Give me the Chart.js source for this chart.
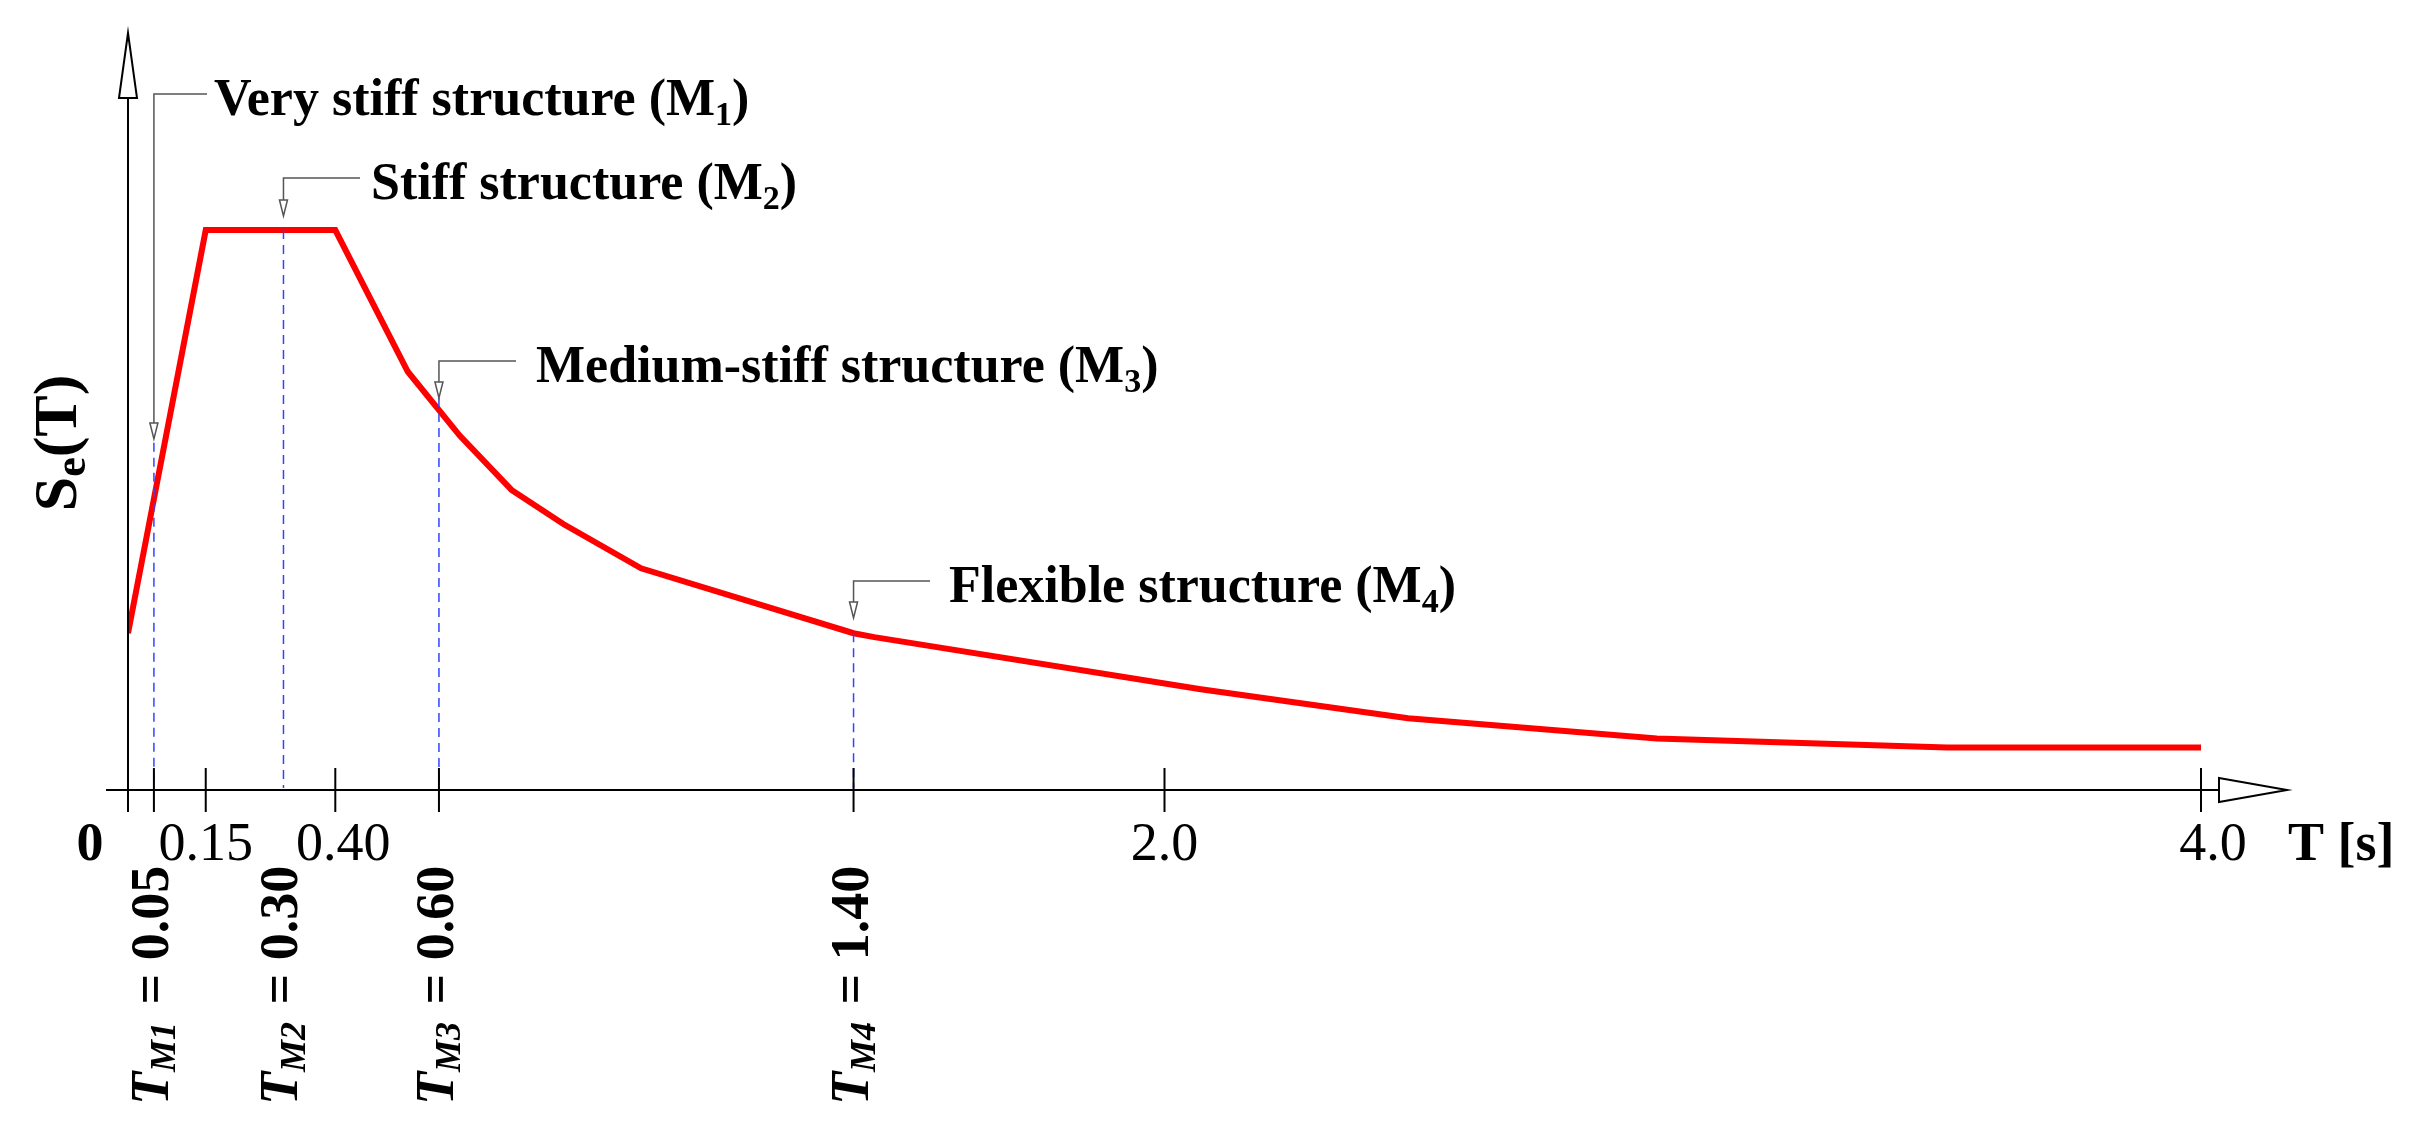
<!DOCTYPE html>
<html><head><meta charset="utf-8">
<script src="https://cdn.jsdelivr.net/npm/chart.js@4/dist/chart.umd.min.js"></script>
<style>html,body{margin:0;padding:0;background:#fff}#w{width:2417px;height:1138px}</style>
</head><body><div id="w"><canvas id="c"></canvas></div>
<script>
const periods = [0, 0.15, 0.40, 0.54, 0.64, 0.74, 0.84, 0.99, 1.40, 1.44, 2.07, 2.47, 2.95, 3.51, 4.0];
const seValues = [0.28, 1.0, 1.0, 0.747, 0.633, 0.536, 0.475, 0.396, 0.28, 0.273, 0.180, 0.128, 0.092, 0.076, 0.076];
const tickValues = [0, 0.05, 0.15, 0.30, 0.40, 0.60, 1.40, 2.0, 4.0];
const tickLabels = [["0",true],["0.15",false],["0.40",false],["2.0",false],["4.0",false]];
const tickLabelAt = [0, 0.15, 0.40, 2.0, 4.0];
const modeNames = ["Very stiff structure (M", "Stiff structure (M", "Medium-stiff structure (M", "Flexible structure (M"];
const modePeriods = [0.05, 0.30, 0.60, 1.40];
const modePeriodLabels = ["0.05", "0.30", "0.60", "1.40"];
const modeSe = [0.62, 1.0, 0.70, 0.28];
const FONT = '"Liberation Serif", "DejaVu Serif", serif';

const decor = {
  id: 'decor',
  afterDatasetsDraw(chart) {
    const ctx = chart.ctx, xs = chart.scales.x, ys = chart.scales.y;
    const y0 = ys.getPixelForValue(0), x0 = xs.getPixelForValue(0);
    ctx.save();
    ctx.strokeStyle = '#3344ff'; ctx.lineWidth = 1.5; ctx.setLineDash([9, 6]);
    modePeriods.forEach((t, i) => {
      const x = xs.getPixelForValue(t);
      ctx.beginPath(); ctx.moveTo(x, ys.getPixelForValue(modeSe[i])); ctx.lineTo(x, y0 - 2); ctx.stroke();
    });
    ctx.setLineDash([]);
    ctx.strokeStyle = '#000'; ctx.lineWidth = 2;
    const xEnd = xs.getPixelForValue(4.0);
    ctx.beginPath(); ctx.moveTo(106, y0); ctx.lineTo(xEnd + 18, y0); ctx.stroke();
    ctx.beginPath(); ctx.moveTo(x0, y0 + 22); ctx.lineTo(x0, 98); ctx.stroke();
    ctx.fillStyle = '#fff';
    ctx.beginPath(); ctx.moveTo(x0 - 9, 98); ctx.lineTo(x0, 33); ctx.lineTo(x0 + 9, 98); ctx.closePath(); ctx.fill(); ctx.stroke();
    ctx.beginPath(); ctx.moveTo(xEnd + 18, y0 - 12); ctx.lineTo(xEnd + 86, y0); ctx.lineTo(xEnd + 18, y0 + 12); ctx.closePath(); ctx.fill(); ctx.stroke();
    tickValues.forEach(t => {
      if (t === 0.30) return;
      const x = xs.getPixelForValue(t);
      ctx.beginPath(); ctx.moveTo(x, y0 - 22); ctx.lineTo(x, y0 + 22); ctx.stroke();
    });
    ctx.fillStyle = '#000'; ctx.textBaseline = 'middle'; ctx.textAlign = 'center';
    tickLabelAt.forEach((t, i) => {
      const [s, b] = tickLabels[i];
      ctx.font = (b ? 'bold ' : '') + '54px ' + FONT;
      let x = xs.getPixelForValue(t);
      if (t === 0) x = 90; if (t === 0.40) x += 8; if (t === 4.0) x += 12;
      ctx.fillText(s, x, 846);
    });
    ctx.font = 'bold 54px ' + FONT; ctx.textAlign = 'left';
    ctx.fillText('T [s]', 2288, 846);
    ctx.save(); ctx.translate(60, 443); ctx.rotate(-Math.PI / 2);
    ctx.textAlign = 'left'; ctx.font = 'bold 62px ' + FONT;
    const w1 = ctx.measureText('S').width; ctx.font = 'bold 44px ' + FONT;
    const w2 = ctx.measureText('e').width; ctx.font = 'bold 62px ' + FONT;
    const w3 = ctx.measureText('(T)').width; let sx = -(w1 + w2 + w3) / 2;
    ctx.fillText('S', sx, 0); ctx.font = 'bold 44px ' + FONT; ctx.fillText('e', sx + w1, 14);
    ctx.font = 'bold 62px ' + FONT; ctx.fillText('(T)', sx + w1 + w2, 0);
    ctx.restore();
    modePeriods.forEach((t, i) => {
      const x = xs.getPixelForValue(t);
      ctx.save(); ctx.translate(x, 1105); ctx.rotate(-Math.PI / 2);
      ctx.textAlign = 'left'; ctx.textBaseline = 'middle';
      ctx.font = 'bold italic 54px ' + FONT; ctx.fillText('T', 0, 0);
      let p = ctx.measureText('T').width;
      ctx.font = 'bold italic 36px ' + FONT; ctx.fillText('M' + (i + 1), p, 12);
      p += ctx.measureText('M' + (i + 1)).width + 4;
      ctx.font = 'bold 54px ' + FONT; ctx.fillText(' = ' + modePeriodLabels[i], p, 0);
      ctx.restore();
    });
    const leaders = [[439, 94, 207, 214], [216, 178, 360, 371], [398, 361, 516, 536], [618, 581, 930, 949]];
    modePeriods.forEach((t, i) => {
      const x = xs.getPixelForValue(t), [tip, top, hx, tx] = leaders[i];
      ctx.strokeStyle = '#555'; ctx.lineWidth = 1.5;
      ctx.beginPath(); ctx.moveTo(x, tip - 14); ctx.lineTo(x, top); ctx.lineTo(hx, top); ctx.stroke();
      ctx.fillStyle = '#fff';
      ctx.beginPath(); ctx.moveTo(x - 4, tip - 16); ctx.lineTo(x, tip); ctx.lineTo(x + 4, tip - 16); ctx.closePath(); ctx.fill(); ctx.stroke();
      ctx.fillStyle = '#000'; ctx.textBaseline = 'middle'; ctx.textAlign = 'left';
      ctx.font = 'bold 52px ' + FONT; ctx.fillText(modeNames[i], tx, top + 8);
      let p = tx + ctx.measureText(modeNames[i]).width;
      ctx.font = 'bold 34px ' + FONT; ctx.fillText(String(i + 1), p, top + 22);
      p += ctx.measureText(String(i + 1)).width;
      ctx.font = 'bold 52px ' + FONT; ctx.fillText(')', p, top + 8);
    });
    ctx.restore();
  }
};

new Chart(document.getElementById('c'), {
  type: 'line',
  data: { datasets: [{ data: periods.map((t, i) => ({ x: t, y: seValues[i] })), borderColor: '#ff0000', borderWidth: 6, pointRadius: 0, tension: 0, fill: false }] },
  options: {
    responsive: true, maintainAspectRatio: false, animation: false,
    layout: { padding: { left: 128, right: 216, top: 33, bottom: 348 } },
    plugins: { legend: { display: false }, tooltip: { enabled: false } },
    scales: {
      x: { type: 'linear', min: 0, max: 4, display: false },
      y: { min: 0, max: 1.352, display: false }
    }
  },
  plugins: [decor]
});
</script></body></html>
